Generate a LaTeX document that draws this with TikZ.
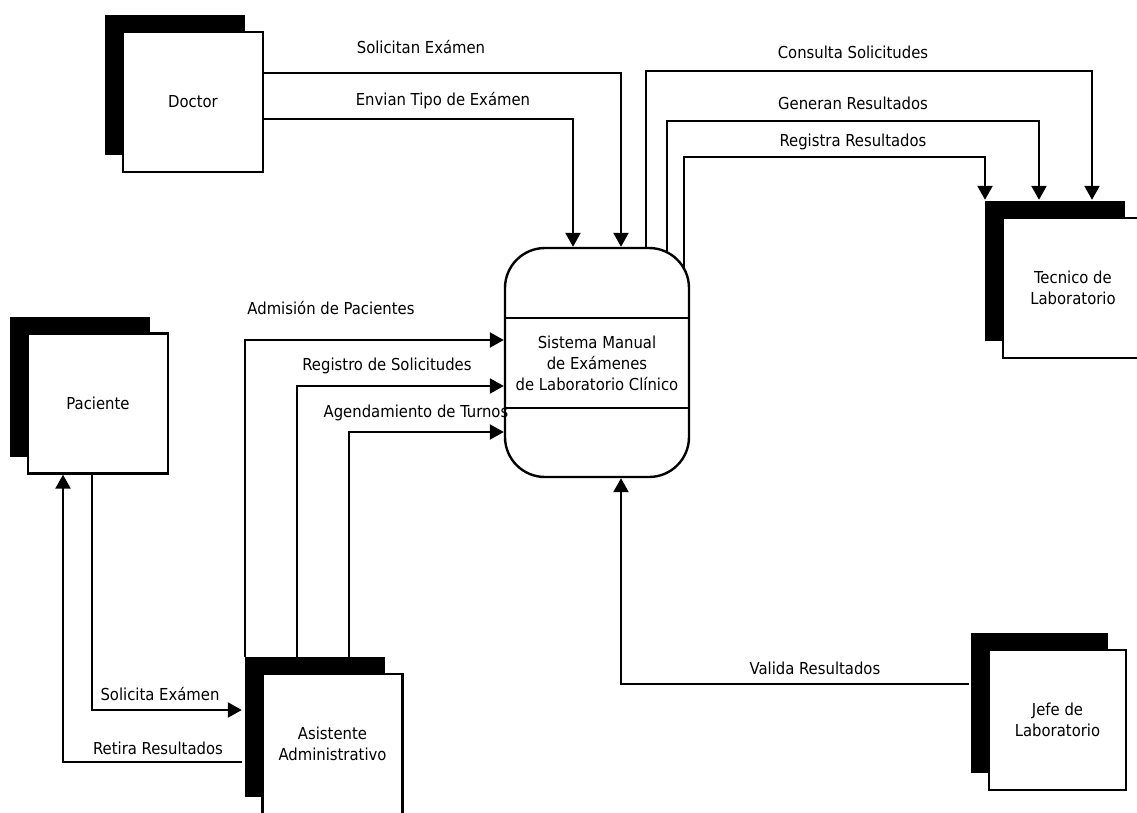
\documentclass[tikz,border=0pt]{standalone}
\usepackage{fontspec}
\newfontfamily\lab{DejaVu Sans Condensed}
\usetikzlibrary{arrows.meta,shadows,backgrounds}
\begin{document}
\begin{tikzpicture}[x=1pt,y=-1pt,
  lw/.style={line width=2.4pt},
  txt/.style={font=\lab\fontsize{16.5}{21}\selectfont, align=center},
  entity/.style={lw, draw=black, fill=white, minimum width=140pt, minimum height=140pt,
    inner sep=0pt, txt,
    general shadow={fill=black, shadow xshift=-18pt, shadow yshift=17pt}},
  proc/.style={lw, draw=black, fill=white, rounded corners=40pt,
    minimum width=184pt, minimum height=229pt, inner sep=0pt},
  flow/.style={lw, -{Triangle[length=14pt,width=15pt]}},
  plain/.style={lw},
  lbl/.style={txt, inner sep=1pt}]
\useasboundingbox (0,0) rectangle (1137,813);
\clip (0,0) rectangle (1137,813);

% external entities
\node[entity] (doc)  at (193,102)   {Doctor};
\node[entity] (pac)  at (98,403.5)  {Paciente};
\node[entity] (asi)  at (332.5,744) {Asistente\\Administrativo};
\node[entity] (tec)  at (1073,288)  {Tecnico de\\Laboratorio};
\node[entity, minimum width=137pt] (jefe) at (1057.5,720) {Jefe de\\Laboratorio};

% central process
\node[proc] (proc) at (597,362.5) {};
\node[txt] (ptext) at (597,363) {Sistema Manual\\de Exámenes\\de Laboratorio Clínico};
\draw[plain] (proc.west |- 0,318) -- (proc.east |- 0,318);
\draw[plain] (proc.west |- 0,408) -- (proc.east |- 0,408);

\begin{scope}[on background layer]
  % Doctor -> process
  \draw[flow] ([yshift=29pt]doc.east) -| ([xshift=24pt]proc.north);
  \draw[flow] ([yshift=-17pt]doc.east) -| ([xshift=-24pt]proc.north);
  % process -> Tecnico
  \draw[flow] ([xshift=49pt,yshift=-10pt]proc.north) -- ++(0,-186) -| ([xshift=19pt,yshift=17pt]tec.north);
  \draw[flow] ([xshift=70pt,yshift=-30pt]proc.north) -- ++(0,-156) -| ([xshift=-34pt,yshift=17pt]tec.north);
  \draw[flow] ([xshift=87pt,yshift=-30pt]proc.north) -- ++(0,-120) -| ([xshift=-88pt,yshift=17pt]tec.north);
  % Asistente -> process
  \draw[flow] ([xshift=-87.5pt,yshift=16pt]asi.north) |- ([yshift=22.5pt]proc.west);
  \draw[flow] ([xshift=-35.5pt,yshift=16pt]asi.north) |- ([yshift=-23.5pt]proc.west);
  \draw[flow] ([xshift=16.5pt,yshift=16pt]asi.north) |- ([yshift=-69.5pt]proc.west);
  % Paciente <-> Asistente
  \draw[flow] ([xshift=-6pt]pac.south) |- ([xshift=-19.5pt,yshift=34pt]asi.west);
  \draw[flow] ([xshift=-19.5pt,yshift=-18pt]asi.west) -| ([xshift=-35pt]pac.south);
  % Jefe -> process
  \draw[flow] ([xshift=-19pt,yshift=36pt]jefe.west) -| ([xshift=24pt]proc.south);
\end{scope}

% flow labels
\node[lbl] (l1)  at (421,47)  {Solicitan Exámen};
\node[lbl] (l2)  at (443,101) {Envian Tipo de Exámen};
\node[lbl] (l3)  at (853,52)  {Consulta Solicitudes};
\node[lbl] (l4)  at (853,103) {Generan Resultados};
\node[lbl] (l5)  at (853,142) {Registra Resultados};
\node[lbl] (l6)  at (331,308) {Admisión de Pacientes};
\node[lbl] (l7)  at (387,366) {Registro de Solicitudes};
\node[lbl] (l8)  at (416,413) {Agendamiento de Turnos};
\node[lbl] (l9)  at (815,668) {Valida Resultados};
\node[lbl] (l10) at (160,694) {Solicita Exámen};
\node[lbl] (l11) at (158,748) {Retira Resultados};
\end{tikzpicture}
\end{document}
